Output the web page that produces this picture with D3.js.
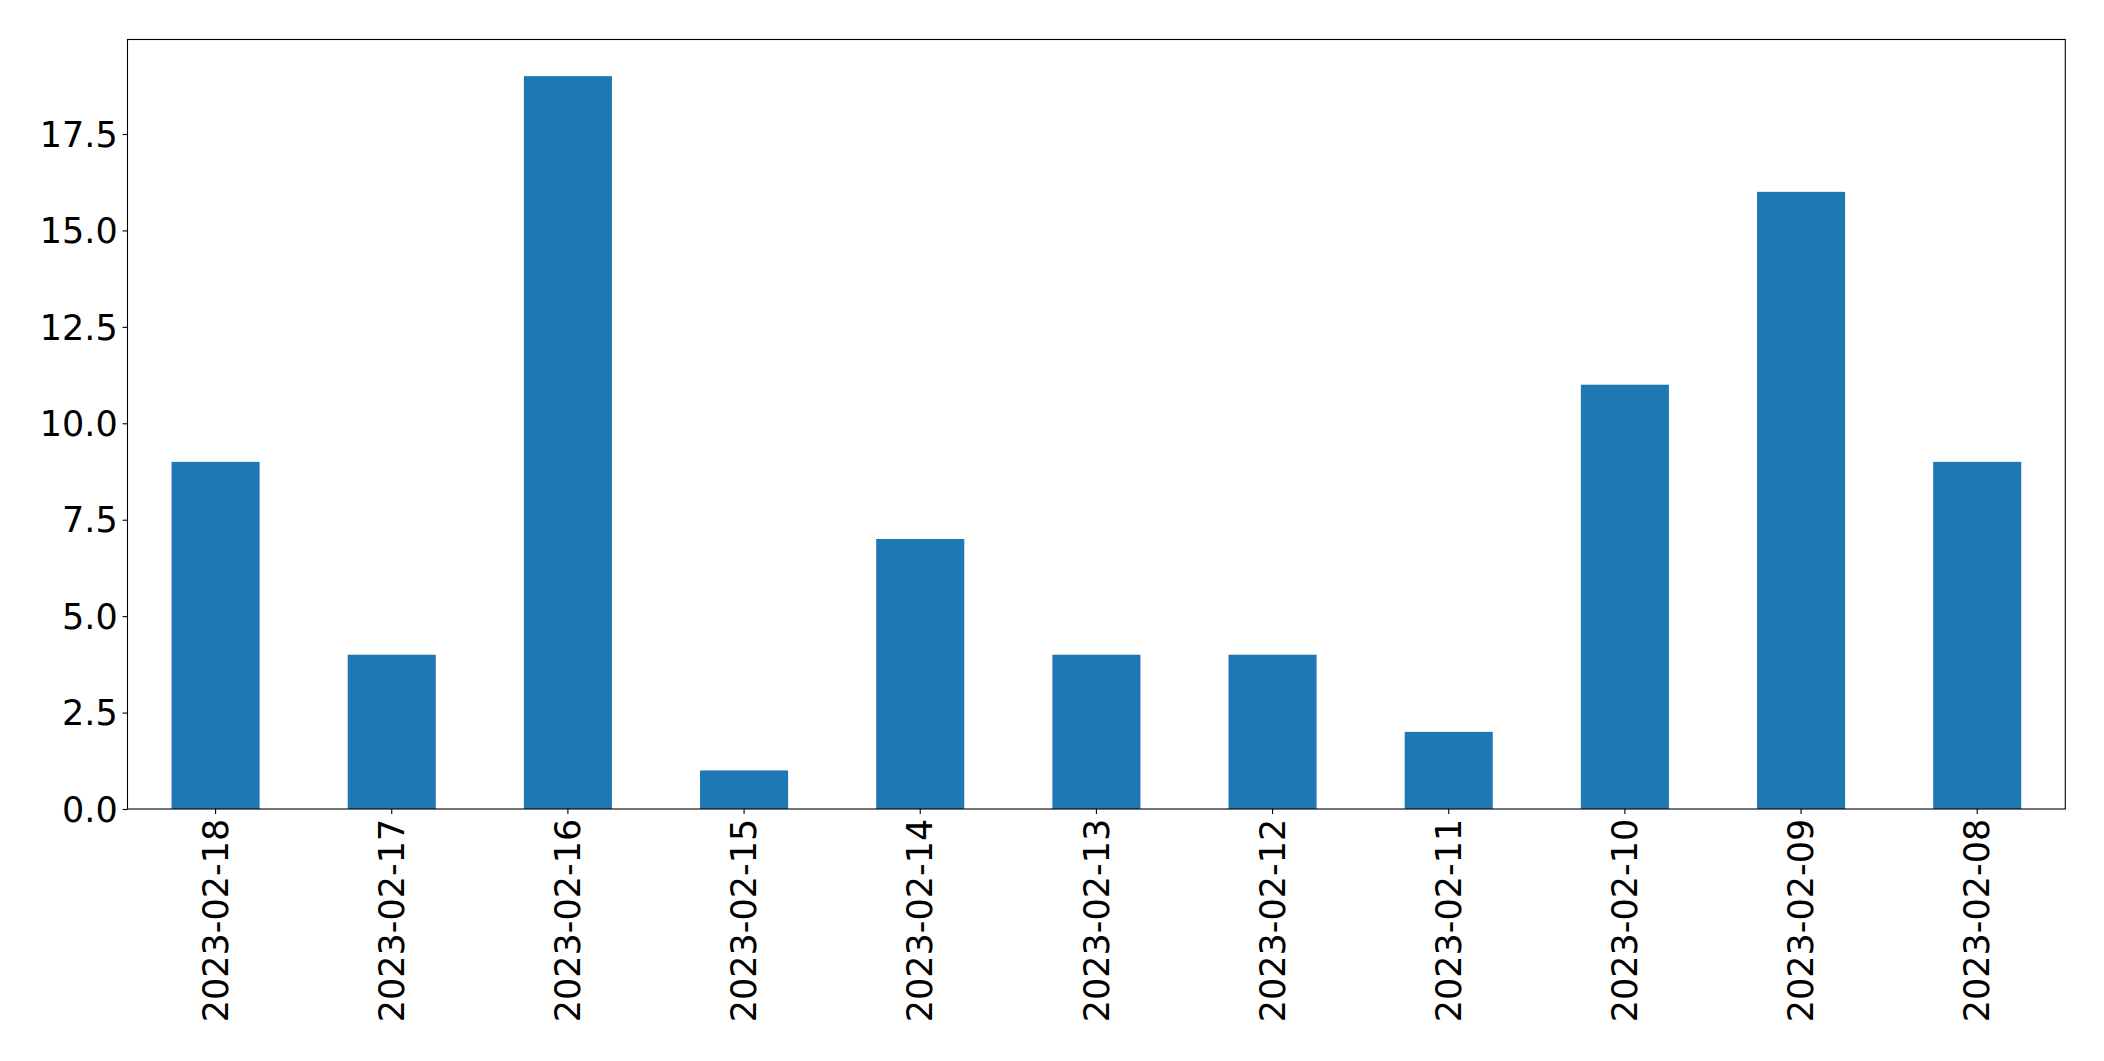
<!DOCTYPE html>
<html>
<head>
<meta charset="utf-8">
<script src="https://cdn.jsdelivr.net/npm/d3@7"></script>
<style>
  html, body { margin: 0; padding: 0; background: #fff; }
  svg { display: block; }
</style>
</head>
<body>
<svg id="chart" width="2104" height="1061"></svg>
<script>
const categories = ["2023-02-18","2023-02-17","2023-02-16","2023-02-15","2023-02-14","2023-02-13","2023-02-12","2023-02-11","2023-02-10","2023-02-09","2023-02-08"];
const values = [9, 4, 19, 1, 7, 4, 4, 2, 11, 16, 9];
const yTicks = [0, 2.5, 5, 7.5, 10, 12.5, 15, 17.5];

const W = 2104, H = 1061;
const margin = { left: 127.5, right: W - 2065.3, top: 39.5, bottom: H - 809 };
const svg = d3.select("#chart");
const pw = W - margin.left - margin.right;
const ph = H - margin.top - margin.bottom;
const g = svg.append("g").attr("transform", `translate(${margin.left},${margin.top})`);

const x = d3.scaleBand().domain(categories).range([0, pw]).paddingInner(0.5).paddingOuter(0.25);
const y = d3.scaleLinear().domain([0, d3.max(values) * 1.05]).range([ph, 0]);

g.selectAll("rect.bar").data(values).enter().append("rect")
  .attr("class", "bar")
  .attr("x", (d, i) => x(categories[i]))
  .attr("y", d => y(d))
  .attr("width", x.bandwidth())
  .attr("height", d => ph - y(d))
  .attr("fill", "#1f77b4");

const fontSize = "35px";
const font = "'DejaVu Sans', sans-serif";

const yAxis = g.append("g")
  .call(d3.axisLeft(y).tickValues(yTicks).tickFormat(d3.format(".1f")).tickSize(4.9).tickPadding(4.9));
yAxis.select(".domain").remove();
yAxis.selectAll("text").style("font-size", fontSize).style("font-family", font).attr("fill", "#000").attr("dy", "0.35em");
yAxis.selectAll("line").attr("stroke", "#000").attr("stroke-width", 1.1);

const xAxis = g.append("g").attr("transform", `translate(0,${ph})`)
  .call(d3.axisBottom(x).tickSize(4.9).tickPadding(4.9));
xAxis.select(".domain").remove();
xAxis.selectAll("line").attr("stroke", "#000").attr("stroke-width", 1.1);
xAxis.selectAll("text")
  .style("font-size", fontSize).style("font-family", font).attr("fill", "#000")
  .attr("text-anchor", "end")
  .attr("transform", "rotate(-90)")
  .attr("x", -9.8)
  .attr("y", 0)
  .attr("dy", "0.35em");

g.append("rect").attr("x", 0).attr("y", 0).attr("width", pw).attr("height", ph)
  .attr("fill", "none").attr("stroke", "#000").attr("stroke-width", 1.1);
</script>
</body>
</html>
